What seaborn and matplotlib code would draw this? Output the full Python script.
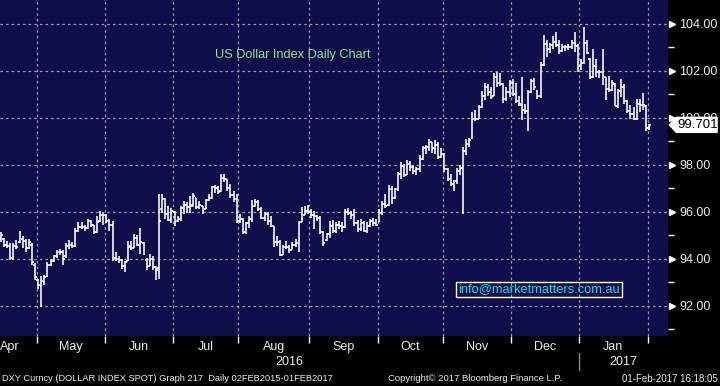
import matplotlib.pyplot as plt
import matplotlib.patches as mpatches
import seaborn as sns
import pandas as pd
import numpy as np

# daily OHLC for DXY, 14 Apr 2016 .. 01 Feb 2017 (weekdays)
opens = [
    94.85, 94.85, 94.60, 94.55, 94.05, 94.55, 94.70, 94.85, 94.75, 94.45, 94.60, 93.75,
    93.10, 92.85, 93.00, 93.25, 93.75, 93.90, 94.10, 94.30, 94.30, 94.10, 94.55, 94.60,
    94.55, 95.20, 95.35, 95.35, 95.30, 95.60, 95.45, 95.15, 95.60, 95.85,
    95.80, 95.60, 95.45, 94.05, 94.00, 93.95, 93.70, 93.90, 94.55, 94.45, 94.90, 94.60,
    94.65, 93.95, 93.70, 94.00, 93.65, 93.60, 96.10, 96.55, 95.90, 95.65,
    96.00, 95.60, 95.70, 96.15, 96.30, 96.20, 96.30, 96.60, 96.20, 96.25, 96.10, 96.50,
    96.60, 97.05, 97.00, 96.90, 97.45, 97.40, 97.00, 96.70, 96.55,
    95.60, 95.70, 95.15, 95.50, 95.70, 96.25, 96.40, 96.10, 95.75, 95.90, 95.60, 95.40,
    94.70, 94.70, 94.15, 94.50, 94.50, 94.35, 94.60, 94.65, 95.55, 95.85, 96.05,
    96.00, 95.85, 95.80, 95.75, 95.15, 94.80, 95.05, 95.40, 95.20, 95.45, 95.40, 95.35,
    96.00, 95.95, 95.85, 95.50, 95.25, 95.50, 95.20, 95.40, 95.60, 95.50,
    95.55, 95.95, 96.35, 96.30, 96.95, 96.60, 96.95, 97.60, 97.95, 97.55, 98.05, 97.90,
    97.75, 97.80, 98.25, 98.70, 98.75, 98.95, 98.70, 98.85, 98.35,
    98.45, 97.80, 97.40, 97.20, 97.30, 97.75, 97.85, 98.60, 98.90, 99.15, 99.95, 99.95,
    100.45, 100.95, 101.30, 101.10, 100.95, 101.75, 101.50, 101.45, 100.80, 101.10,
    101.50, 101.00, 100.70, 100.55, 100.35, 100.30, 101.10, 101.55, 101.15, 100.95, 102.25,
    103.15, 102.95, 103.10, 103.25, 103.10, 102.85, 103.00, 103.00, 103.00, 103.20, 103.05,
    102.20, 102.35, 103.20, 102.50, 101.75, 102.20, 101.95, 101.95, 101.75, 101.25, 101.20,
    101.45, 100.50, 101.15, 101.30, 100.70, 100.30, 100.15, 99.95, 100.60, 100.55, 100.50,
    99.55,
]
highs = [
    95.15, 94.90, 94.75, 94.65, 94.65, 94.80, 95.20, 94.95, 94.85, 94.85, 94.65, 93.80,
    93.15, 93.25, 93.30, 93.85, 94.00, 94.15, 94.35, 94.40, 94.35, 94.65, 94.80, 94.70,
    95.30, 95.55, 95.55, 95.45, 95.70, 95.65, 95.45, 95.80, 96.05, 95.95,
    95.90, 95.70, 95.60, 94.30, 94.10, 94.00, 93.90, 94.75, 94.75, 95.05, 95.00, 95.30,
    94.70, 94.05, 94.20, 94.10, 93.70, 96.75, 96.75, 96.60, 96.25, 96.15,
    96.05, 95.80, 96.25, 96.45, 96.40, 96.65, 96.80, 96.60, 96.45, 96.25, 96.55, 96.75,
    97.10, 97.15, 97.10, 97.60, 97.60, 97.40, 97.20, 96.90, 96.75,
    95.90, 95.75, 95.55, 95.80, 96.50, 96.55, 96.50, 96.20, 96.00, 96.00, 95.80, 95.40,
    94.95, 94.80, 94.60, 94.75, 94.60, 94.70, 94.85, 95.60, 96.20, 96.25, 96.30,
    96.10, 96.05, 95.85, 95.80, 95.20, 95.10, 95.60, 95.65, 95.55, 95.60, 95.55, 96.10,
    96.15, 96.05, 96.10, 95.65, 95.70, 95.60, 95.55, 95.70, 95.75, 95.70,
    96.10, 96.45, 96.75, 97.15, 97.10, 97.00, 97.70, 98.10, 98.05, 98.20, 98.15, 98.00,
    97.90, 98.40, 98.80, 98.85, 99.10, 98.95, 99.05, 98.95, 98.70,
    98.50, 97.85, 97.60, 97.35, 97.85, 98.00, 98.75, 99.10, 99.15, 100.25, 100.35,
    100.55, 101.15, 101.50, 101.45, 101.30, 101.90, 101.95, 101.90, 101.50, 101.30, 101.60,
    101.65, 101.50, 100.95, 101.75, 100.60, 101.20, 101.65, 101.70, 101.20, 102.40,
    103.55, 103.30, 103.20, 103.50, 103.65, 103.30, 103.15, 103.10, 103.15, 103.30, 103.65,
    103.15, 102.50, 103.85, 103.30, 102.55, 102.95, 102.50, 102.05, 102.95, 101.75, 101.80,
    101.60, 101.50, 101.25, 101.65, 101.45, 100.75, 100.55, 100.45, 100.80, 100.80, 101.05,
    100.55, 99.75,
]
lows = [
    94.70, 94.50, 94.45, 93.95, 93.95, 94.40, 94.65, 94.45, 94.30, 94.40, 93.75, 93.10,
    92.70, 91.95, 92.90, 93.20, 93.70, 93.85, 94.05, 94.15, 93.75, 94.05, 94.40, 94.45,
    94.50, 95.15, 95.25, 95.20, 95.25, 95.35, 95.05, 95.10, 95.55, 95.45,
    95.50, 95.20, 93.90, 93.90, 93.80, 93.55, 93.45, 93.90, 94.35, 94.45, 94.55, 94.20,
    94.15, 93.50, 93.70, 93.50, 93.10, 93.15, 95.95, 95.70, 95.60, 95.50,
    95.40, 95.55, 95.60, 95.90, 95.95, 95.95, 96.20, 96.10, 96.10, 95.90, 96.10, 96.45,
    96.55, 96.80, 96.75, 96.85, 97.25, 96.90, 96.60, 96.40, 95.50,
    95.50, 95.05, 95.05, 95.30, 95.55, 96.20, 96.05, 95.70, 95.60, 95.45, 95.35, 94.50,
    94.55, 94.10, 94.15, 94.40, 94.25, 94.35, 94.50, 94.30, 95.55, 95.85, 95.90,
    95.75, 95.25, 95.60, 95.05, 94.55, 94.75, 94.90, 95.10, 95.10, 95.25, 95.15, 95.30,
    95.85, 95.70, 95.40, 95.15, 95.20, 95.15, 95.10, 95.35, 95.40, 95.40,
    95.55, 95.85, 96.15, 96.25, 96.35, 96.55, 96.90, 97.40, 97.50, 97.55, 97.75, 97.60,
    97.55, 97.70, 98.20, 98.45, 98.60, 98.50, 98.45, 98.25, 98.30,
    97.70, 97.30, 97.10, 96.90, 97.20, 97.55, 95.90, 98.40, 98.75, 99.10, 99.85,
    99.95, 100.40, 100.75, 100.95, 100.80, 100.95, 101.30, 101.35, 100.65, 100.70, 100.90,
    100.95, 100.65, 100.50, 99.90, 100.15, 99.45, 101.05, 101.20, 100.80, 100.85,
    102.20, 102.60, 102.75, 102.95, 103.00, 102.70, 102.80, 102.85, 102.90, 102.95, 102.80,
    101.95, 102.05, 102.30, 102.70, 101.65, 101.70, 101.75, 101.70, 101.40, 100.75, 101.10,
    101.15, 100.50, 100.40, 100.90, 100.60, 100.20, 99.95, 99.90, 99.90, 100.25, 100.35,
    99.45, 99.50,
]
closes = [
    95.00, 94.60, 94.55, 94.05, 94.55, 94.50, 95.10, 94.75, 94.45, 94.70, 93.85, 93.20,
    92.90, 93.05, 93.20, 93.75, 93.90, 94.10, 94.20, 94.30, 94.00, 94.55, 94.60, 94.55,
    95.20, 95.35, 95.35, 95.30, 95.60, 95.45, 95.15, 95.55, 95.85, 95.85,
    95.60, 95.45, 94.05, 94.00, 93.95, 93.70, 93.85, 94.50, 94.45, 94.90, 94.60, 94.70,
    94.20, 93.70, 94.00, 93.65, 93.50, 95.60, 96.55, 95.90, 95.65, 96.05,
    95.55, 95.70, 96.15, 96.30, 96.20, 96.25, 96.65, 96.20, 96.30, 96.05, 96.50, 96.60,
    97.05, 97.00, 96.85, 97.45, 97.40, 97.00, 96.70, 96.55, 95.60,
    95.70, 95.15, 95.50, 95.70, 96.25, 96.40, 96.10, 95.75, 95.90, 95.60, 95.40, 94.70,
    94.70, 94.15, 94.50, 94.50, 94.35, 94.60, 94.65, 95.50, 95.70, 96.05, 96.00,
    95.85, 95.80, 95.75, 95.15, 94.65, 95.05, 95.45, 95.20, 95.45, 95.40, 95.35, 96.00,
    95.95, 95.85, 95.50, 95.25, 95.50, 95.20, 95.40, 95.60, 95.50, 95.45,
    95.95, 96.35, 96.25, 96.95, 96.60, 96.95, 97.60, 97.95, 97.55, 98.05, 97.90, 97.75,
    97.80, 98.25, 98.70, 98.75, 98.95, 98.70, 98.85, 98.35, 98.45,
    97.80, 97.40, 97.20, 97.05, 97.75, 97.85, 98.60, 98.90, 99.05, 99.95, 99.95,
    100.45, 100.95, 101.30, 101.10, 100.90, 101.75, 101.50, 101.45, 100.80, 101.10, 101.50,
    101.00, 100.70, 100.60, 100.35, 100.30, 101.10, 101.55, 101.30, 100.95, 102.25,
    103.15, 102.95, 103.10, 103.25, 103.10, 102.85, 103.00, 103.00, 103.00, 103.20, 103.10,
    102.20, 102.35, 103.20, 102.75, 101.75, 102.20, 101.95, 101.95, 101.80, 101.25, 101.20,
    101.50, 100.50, 101.15, 101.30, 100.70, 100.30, 100.15, 99.95, 100.60, 100.55, 100.55,
    99.55, 99.70,
]
last_price = 99.701
price_ticks = [92, 94, 96, 98, 100, 102, 104]
minor_ticks = [91, 93, 95, 97, 99, 101, 103]
title = "US Dollar Index Daily Chart"
watermark = "info@marketmatters.com.au"
footer_left = "DXY Curncy (DOLLAR INDEX SPOT) Graph 217  Daily 02FEB2015-01FEB2017"
footer_mid = "Copyright\u00a9 2017 Bloomberg Finance L.P."
footer_right = "01-Feb-2017 16:18:05"

dates = pd.bdate_range("2016-04-14", "2017-02-01")
df = pd.DataFrame({"date": dates, "open": opens, "high": highs,
                   "low": lows, "close": closes})
df["idx"] = np.arange(len(df))

NAVY = "#0f0d4a"
TXT = "#ecebe6"
sns.set_theme(style="dark", rc={"axes.facecolor": NAVY, "figure.facecolor": "black"})
plt.rcParams["font.family"] = ["Liberation Sans", "DejaVu Sans"]

fig = plt.figure(figsize=(7.2, 3.86), dpi=100)
ax = fig.add_axes([0, 0.1303, 0.9282, 0.8697])
ax.set_facecolor(NAVY)

XMIN, XMAX = -0.3, 215.2
ax.set_xlim(XMIN, XMAX)
ax.set_ylim(90.72, 105.02)

# OHLC bars
ax.vlines(df["idx"], df["low"], df["high"], color="white", lw=1.15, zorder=3)
ax.hlines(df["open"], df["idx"] - 0.55, df["idx"], color="white", lw=1.15, zorder=3)
ax.hlines(df["close"], df["idx"], df["idx"] + 0.55, color="white", lw=1.15, zorder=3)

# month boundaries
month = df["date"].dt.to_period("M")
firsts = df.index[month != month.shift()].tolist()
bounds = [i - 0.5 for i in firsts[1:]]
ax.set_xticks(bounds)
ax.set_xticklabels([])
ax.tick_params(axis="x", direction="out", length=5, width=1, color="white", bottom=True)

ax.yaxis.tick_right()
ax.set_yticks(price_ticks)
ax.set_yticks(minor_ticks, minor=True)
ax.set_yticklabels([f"{v:.2f}" for v in price_ticks])
ax.tick_params(axis="y", which="major", length=0, pad=8, labelsize=9,
               labelcolor=TXT, right=True)
ax.tick_params(axis="y", which="minor", direction="out", length=4, width=1,
               color="white", right=True)
ax.plot([1.006] * len(price_ticks), price_ticks, ls="none", marker=">", ms=4.5,
        color="white", transform=ax.get_yaxis_transform(), clip_on=False)

ax.grid(True, which="major", color="#a09fa8", lw=0.9, ls=(0, (2, 2.5)))
ax.set_axisbelow(True)
for s in ax.spines.values():
    s.set_visible(False)

# month and year labels under the axis
tx = ax.get_xaxis_transform()
for k, start in enumerate(firsts):
    end = firsts[k + 1] - 1 if k + 1 < len(firsts) else len(df) - 1
    name = df["date"][start].strftime("%b")
    if k == 0:
        ax.text(XMIN, -0.034, name, transform=tx, ha="left", va="center",
                fontsize=9, color=TXT)
    elif k < len(firsts) - 1:
        ax.text((start + end) / 2, -0.034, name, transform=tx, ha="center",
                va="center", fontsize=9, color=TXT)

years = df["date"].dt.year
y2017 = df.index[years == 2017][0]
ax.text((XMIN + y2017 - 0.5) / 2, -0.079, "2016", transform=tx, ha="center",
        va="center", fontsize=9, color=TXT)
ax.text((y2017 - 0.5 + XMAX) / 2, -0.079, "2017", transform=tx, ha="center",
        va="center", fontsize=9, color=TXT)
ax.plot([y2017 - 0.5] * 2, [-0.052, -0.102], color="#8a8a8a", lw=1,
        transform=tx, clip_on=False)

# last price tag (covers the 100.00 label like the terminal does)
ty = ax.get_yaxis_transform()
h = 0.32
tag = mpatches.Polygon([(1.0015, last_price), (1.012, last_price + h), (1.073, last_price + h),
                        (1.073, last_price - h), (1.012, last_price - h)],
                       closed=True, fc="white", ec="white", transform=ty,
                       clip_on=False, zorder=10)
ax.add_patch(tag)
ax.text(1.0135, last_price, f"{last_price:.3f}", transform=ty, ha="left", va="center",
        fontsize=9.5, color="black", zorder=11, clip_on=False)

# annotations
fig.text(215 / 720, 1 - 55 / 386, title, ha="left", va="center", fontsize=9.2,
         color="#86ea86")
fig.text(539 / 720, 1 - 289.5 / 386, watermark, ha="center", va="center",
         fontsize=9.3, color="#14e2e6",
         bbox=dict(boxstyle="square,pad=0.15", fc="none", ec="white", lw=1))

fig.text(2 / 720, 1 - 378.5 / 386, footer_left, ha="left", va="center",
         fontsize=6.7, color=TXT)
fig.text(475 / 720, 1 - 378.5 / 386, footer_mid, ha="center", va="center",
         fontsize=6.8, color=TXT)
fig.text(718 / 720, 1 - 378.5 / 386, footer_right, ha="right", va="center",
         fontsize=7.0, color=TXT)

fig.savefig("out.png", dpi=100, facecolor="black")
